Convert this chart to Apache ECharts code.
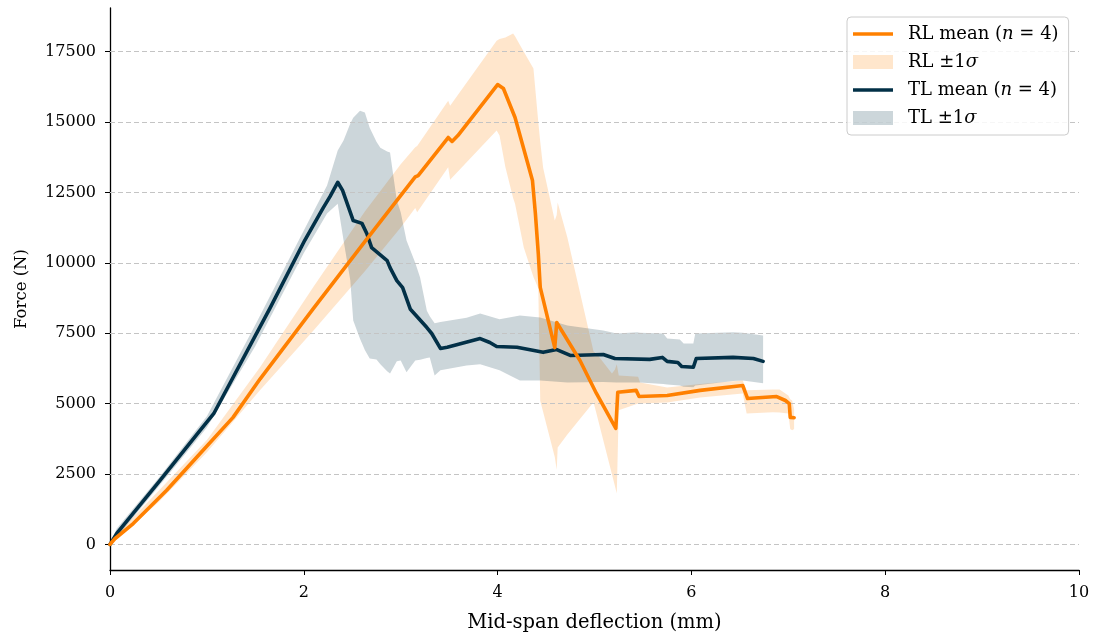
<!DOCTYPE html>
<html>
<head>
<meta charset="utf-8">
<script src="https://cdn.jsdelivr.net/npm/echarts@6/dist/echarts.min.js"></script>
<style>
  html, body { margin: 0; padding: 0; background: #ffffff; }
  #chart { width: 1096px; height: 640px; }
</style>
</head>
<body>
<div id="chart"></div>
<script>
// Mid-span deflection (mm) vs. force (N): mean curves and ±1σ envelopes

// Tick values on the force axis
const yTicks = [0, 2500, 5000, 7500, 10000, 12500, 15000, 17500];

// RL mean curve
const rlX = [0, 0.05, 0.24, 0.585, 0.93, 1.27, 1.55, 2.10, 2.63, 3.15,
  3.18, 3.49, 3.51, 3.53, 3.59, 4.00, 4.06, 4.18, 4.36, 4.39,
  4.42, 4.44, 4.59, 4.61, 4.85, 5.02, 5.22, 5.24, 5.43, 5.46,
  5.75, 6.09, 6.53, 6.58, 6.88, 6.97, 7.01, 7.02, 7.06];
const rlMean = [0, 200, 740, 1920, 3230, 4510, 5880, 8380, 10750, 13050,
  13100, 14450, 14480, 14310, 14520, 16330, 16190, 15160, 12920, 11750,
  10330, 9130, 6990, 7880, 6530, 5360, 4120, 5400, 5470, 5250,
  5290, 5470, 5640, 5180, 5250, 5110, 5000, 4510, 4500];

// RL ±1σ envelope
const rlBandX = [0, 0.05, 0.50, 1.00, 1.55, 2.10, 2.63, 3.00, 3.15, 3.17,
  3.49, 3.51, 3.99, 4.02, 4.08, 4.16, 4.18, 4.27, 4.37, 4.42,
  4.44, 4.47, 4.59, 4.61, 4.62, 4.72, 4.99, 5.02, 5.18, 5.21,
  5.23, 5.25, 5.45, 5.47, 5.75, 6.09, 6.53, 6.57, 6.84, 6.91,
  7.00, 7.02, 7.04, 7.06];
const rlLower = [0, 120, 1500, 3270, 5480, 7600, 9700, 11250, 11950, 11800,
  13390, 12950, 14700, 14520, 13400, 12300, 12100, 10540, 9500, 9100,
  5100, 4700, 3100, 2650, 3440, 3900, 5050, 4650, 2490, 2080,
  1810, 4760, 5000, 5000, 5040, 5220, 5360, 4650, 4690, 4680,
  4650, 4100, 4050, 4100];
const rlUpper = [0, 280, 1900, 3710, 6300, 9150, 11820, 13500, 14100, 14150,
  15760, 15580, 17890, 17950, 18000, 18140, 18050, 17500, 16900, 15000,
  14300, 13380, 11500, 11700, 12140, 10900, 6850, 6780, 6070, 6200,
  6400, 6000, 5950, 5750, 5570, 5700, 5820, 5470, 5500, 5500,
  5290, 5150, 5110, 4800];

// TL mean curve
const tlX = [0, 0.07, 0.50, 0.93, 1.07, 1.65, 2.01, 2.20, 2.27, 2.35,
  2.40, 2.51, 2.60, 2.65, 2.70, 2.86, 2.89, 2.96, 3.02, 3.10,
  3.27, 3.32, 3.41, 3.48, 3.82, 3.92, 3.99, 4.20, 4.47, 4.61,
  4.75, 5.09, 5.21, 5.57, 5.70, 5.75, 5.86, 5.90, 6.02, 6.05,
  6.43, 6.64, 6.74];
const tlMean = [0, 390, 2200, 4050, 4640, 8380, 10800, 11950, 12350, 12860,
  12570, 11500, 11400, 11040, 10540, 10080, 9830, 9370, 9120, 8350,
  7700, 7490, 6960, 7000, 7310, 7170, 7030, 7000, 6820, 6920,
  6710, 6745, 6600, 6570, 6640, 6500, 6460, 6320, 6290, 6600,
  6640, 6600, 6500];

// TL ±1σ envelope
const tlBandX = [0, 0.07, 0.50, 1.00, 1.50, 2.00, 2.24, 2.35, 2.41, 2.48,
  2.51, 2.58, 2.63, 2.68, 2.75, 2.79, 2.86, 2.89, 2.96, 3.00,
  3.06, 3.15, 3.20, 3.27, 3.30, 3.35, 3.41, 3.68, 3.82, 4.02,
  4.23, 4.44, 4.72, 5.09, 5.23, 5.44, 5.47, 5.71, 5.75, 5.88,
  5.92, 6.02, 6.04, 6.43, 6.53, 6.74];
const tlLower = [0, 250, 2050, 4150, 7050, 10350, 11750, 12100, 10800, 9370,
  7950, 7300, 6900, 6600, 6570, 6400, 6150, 6070, 6500, 6530,
  6110, 6530, 6560, 6620, 6640, 6000, 6180, 6350, 6400, 6180,
  5820, 5820, 5750, 5770, 5750, 5750, 5750, 5700, 5680, 5640,
  5600, 5580, 5640, 5800, 5820, 5720];
const tlUpper = [0, 560, 2350, 4550, 7800, 11150, 12750, 13990, 14340, 14950,
  15150, 15400, 15340, 14800, 14300, 14090, 13950, 13920, 12210, 11800,
  10790, 10000, 9480, 8300, 8100, 7850, 7900, 8050, 8200, 8000,
  8130, 8060, 7770, 7600, 7490, 7530, 7520, 7490, 7310, 7280,
  7130, 7130, 7490, 7530, 7520, 7420];

const ORANGE = '#ff8000';
const NAVY = '#023047';
const ORANGE_FILL = 'rgba(255,128,0,0.2)';
const NAVY_FILL = 'rgba(2,48,71,0.2)';
const FONT = '"DejaVu Serif", serif';

const RL_MEAN = 'RL mean (n = 4)';
const RL_BAND = 'RL ±1σ';
const TL_MEAN = 'TL mean (n = 4)';
const TL_BAND = 'TL ±1σ';

// Envelope: one filled polygon running along the upper bound and back along the lower bound
function envelope(name, xs, lo, hi, fill) {
  return {
    type: 'custom',
    name: name,
    coordinateSystem: 'cartesian2d',
    data: xs.map((x, i) => [x, lo[i], hi[i]]),
    encode: { x: 0, y: [1, 2] },
    itemStyle: { color: fill },
    silent: true,
    z: 1,
    renderItem: function (params, api) {
      if (params.dataIndex !== 0) return null;
      const top = xs.map((x, i) => api.coord([x, hi[i]]));
      const bottom = xs.map((x, i) => api.coord([x, lo[i]])).reverse();
      return {
        type: 'polygon',
        shape: { points: top.concat(bottom) },
        style: { fill: fill, stroke: null }
      };
    }
  };
}

function meanLine(name, xs, ys, color, z, extra) {
  return Object.assign({
    type: 'line',
    name: name,
    data: xs.map((x, i) => [x, ys[i]]),
    symbol: 'none',
    silent: true,
    lineStyle: { color: color, width: 3.6, join: 'round', cap: 'round' },
    itemStyle: { color: color },
    z: z
  }, extra || {});
}

// Dashed horizontal reference lines at each force tick
const gridLines = {
  markLine: {
    silent: true,
    symbol: 'none',
    z: 2,
    animation: false,
    label: { show: false },
    emphasis: { disabled: true },
    lineStyle: { type: [5, 3], color: '#c4c4c4', width: 1 },
    data: yTicks.map(v => ({ yAxis: v }))
  }
};

const series = [
  envelope(RL_BAND, rlBandX, rlLower, rlUpper, ORANGE_FILL),
  envelope(TL_BAND, tlBandX, tlLower, tlUpper, NAVY_FILL),
  meanLine(TL_MEAN, tlX, tlMean, NAVY, 3, gridLines),
  meanLine(RL_MEAN, rlX, rlMean, ORANGE, 4)
];

const axisText = { fontFamily: FONT, fontSize: 16, color: '#000' };
const LINE_ICON = 'path://M0,0H40V3.6H0Z';

const option = {
  animation: false,
  backgroundColor: '#ffffff',
  grid: { left: 110, right: 17, top: 8, bottom: 70, containLabel: false, outerBoundsMode: 'none' },
  xAxis: {
    type: 'value',
    min: 0, max: 10, interval: 2,
    name: 'Mid-span deflection (mm)',
    nameLocation: 'middle',
    nameGap: 43,
    nameTextStyle: { fontFamily: FONT, fontSize: 19.5, color: '#000' },
    axisLine: { show: true, onZero: false, lineStyle: { color: '#000', width: 1.3 } },
    axisTick: { show: true, inside: false, length: 5, lineStyle: { color: '#000', width: 1 } },
    axisLabel: Object.assign({ margin: 15 }, axisText),
    splitLine: { show: false }
  },
  yAxis: {
    type: 'value',
    min: -910, max: 19050,
    name: 'Force (N)',
    nameLocation: 'middle',
    nameGap: 80,
    nameRotate: 90,
    nameTextStyle: { fontFamily: FONT, fontSize: 16.5, color: '#000' },
    axisLine: { show: true, onZero: false, lineStyle: { color: '#000', width: 1.3 } },
    axisTick: { show: true, inside: false, length: 5, customValues: yTicks, lineStyle: { color: '#000', width: 1 } },
    axisLabel: Object.assign({
      margin: 14,
      customValues: yTicks,
      formatter: function (v) { return String(v); }
    }, axisText),
    splitLine: { show: false }
  },
  legend: {
    orient: 'vertical',
    left: 847, top: 17,
    padding: [8, 10, 8, 6],
    itemWidth: 40, itemHeight: 14, itemGap: 10,
    symbolKeepAspect: true,
    backgroundColor: 'rgba(255,255,255,0.85)',
    borderColor: '#cccccc', borderWidth: 1, borderRadius: 4,
    selectedMode: false,
    textStyle: {
      fontFamily: FONT, fontSize: 18, color: '#000',
      padding: [0, 0, 0, 10],
      rich: { i: { fontFamily: FONT, fontSize: 18, fontStyle: 'italic', color: '#000' } }
    },
    formatter: function (name) {
      return name.replace('(n =', '({i|n} =').replace('σ', '{i|σ}');
    },
    data: [
      { name: RL_MEAN, icon: LINE_ICON },
      { name: RL_BAND, icon: 'rect' },
      { name: TL_MEAN, icon: LINE_ICON },
      { name: TL_BAND, icon: 'rect' }
    ]
  },
  series: series
};

const chart = echarts.init(document.getElementById('chart'), null, { renderer: 'canvas' });
chart.setOption(option);
</script>
</body>
</html>
